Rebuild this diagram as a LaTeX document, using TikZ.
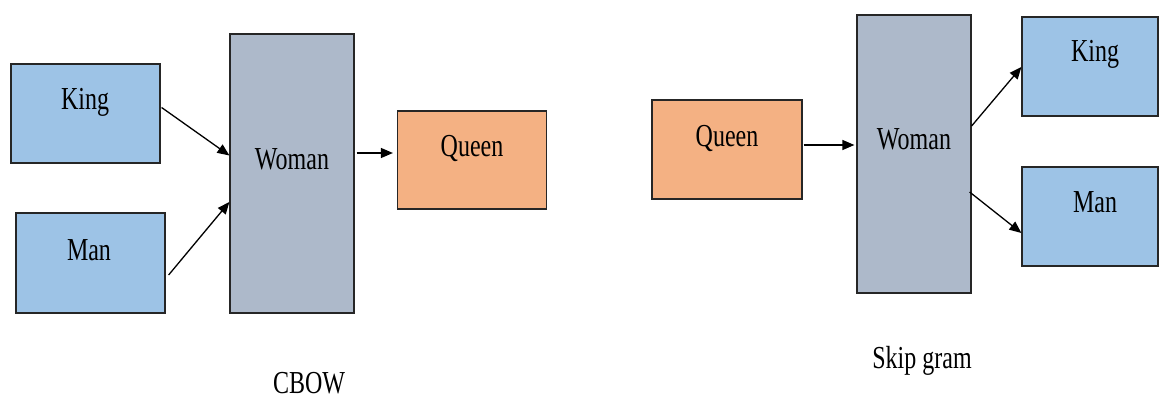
\documentclass[tikz,border=0pt]{standalone}
\usepackage{fontspec}
\setmainfont{Liberation Serif}[FakeStretch=0.75]
\usetikzlibrary{arrows.meta,calc}
\definecolor{wordblue}{HTML}{9DC3E6}
\definecolor{wordgray}{HTML}{ADB9CA}
\definecolor{wordorange}{HTML}{F4B183}
\tikzset{
  box/.style={draw=black!85, line width=1.2pt, inner sep=0pt},
  bluebox/.style={box, fill=wordblue},
  graybox/.style={box, fill=wordgray},
  orangebox/.style={box, fill=wordorange},
  word/.style={anchor=base, inner sep=0pt, font=\fontsize{32}{36}\selectfont},
  link/.style={line width=1.3pt, -{Triangle[length=12pt,width=10pt]}}
}
\begin{document}
\begin{tikzpicture}[x=1pt,y=-1pt]
\useasboundingbox (0,0) rectangle (1159,398);

% CBOW: context words feed the centre word
\node[bluebox, minimum width=149pt, minimum height=99pt] (kingL) at (85.5,113.5) {};
\node[bluebox, minimum width=149pt, minimum height=100pt] (manL) at (90.5,263) {};
\node[graybox, minimum width=124pt, minimum height=279pt] (womanL) at (292,173.5) {};
\node[orangebox, minimum width=149pt, minimum height=98pt] (queenL) at (472,160) {};

\node[word] (kingLt) at (85,110) {King};
\node[word] (manLt) at (89,260) {Man};
\node[word] (womanLt) at (292,170) {Woman};
\node[word] (queenLt) at (472,157) {Queen};
\node[word] (cbow) at (309,393) {CBOW};

\draw[link] ($(kingL.east)+(1,-6)$) -- ($(womanL.west)+(0,-18)$);
\draw[link] ($(manL.east)+(3,12)$) -- ($(womanL.west)+(0,28.5)$);
\draw[link] ($(womanL.east)+(2,-20.5)$) -- ($(queenL.west)+(-4,-7)$);

% Skip gram: the centre word predicts its context
\node[orangebox, minimum width=150pt, minimum height=99pt] (queenR) at (727,149.5) {};
\node[graybox, minimum width=114pt, minimum height=278pt] (womanR) at (914,154) {};
\node[bluebox, minimum width=136pt, minimum height=99pt] (kingR) at (1090,66.5) {};
\node[bluebox, minimum width=136pt, minimum height=99pt] (manR) at (1090,216.5) {};

\node[word] (queenRt) at (727,147) {Queen};
\node[word] (womanRt) at (914,150) {Woman};
\node[word] (kingRt) at (1095,62) {King};
\node[word] (manRt) at (1095,213) {Man};
\node[word] (skipgram) at (922,368) {Skip gram};

\draw[link] ($(queenR.east)+(1,-4.5)$) -- ($(womanR.west)+(-2,-9)$);
\draw[link] ($(womanR.east)+(0,-28)$) -- ($(kingR.west)+(0,0.5)$);
\draw[link] ($(womanR.east)+(-2,38)$) -- ($(manR.west)+(0,16.5)$);
\end{tikzpicture}
\end{document}
